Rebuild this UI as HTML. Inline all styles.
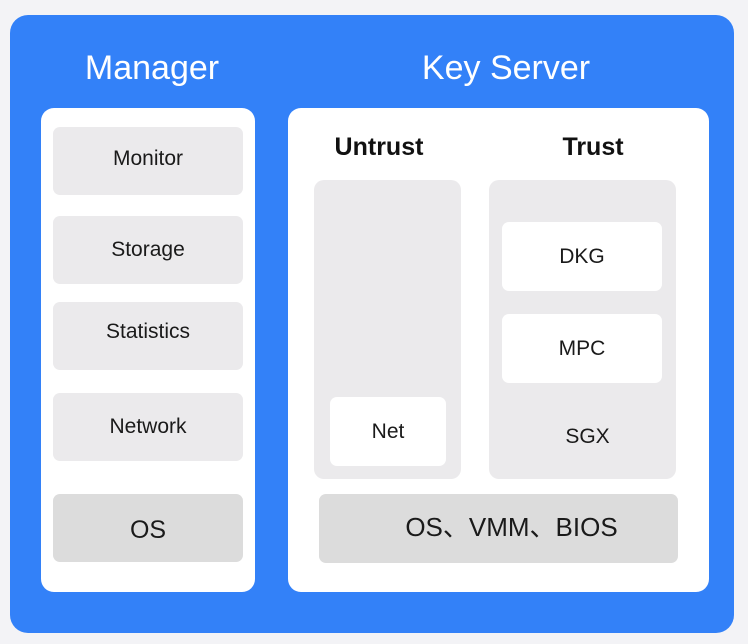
<!DOCTYPE html><html><head><style>
body{margin:0;width:748px;height:644px;background:#f3f3f6;position:relative;font-family:"Liberation Sans","Noto Sans CJK SC",sans-serif;overflow:hidden}
div{position:absolute;box-sizing:border-box}
.c{display:flex;align-items:center;justify-content:center;color:#1a1a1a}
.g{background:#ebeaec;border-radius:7px;font-size:21px}
.w{background:#fff;border-radius:7px;font-size:21px}
.d{background:#dcdcdc;border-radius:7px}
.t{color:#fff;font-size:34px}
.h{font-size:25px;font-weight:bold;color:#111}
</style></head><body>
<div style="left:10px;top:15px;width:724px;height:618px;background:#3381f8;border-radius:18px"></div>
<div class="c t" style="left:41px;top:46px;width:222px;height:44px">Manager</div>
<div class="c t" style="left:288px;top:46px;width:436px;height:44px">Key Server</div>
<div style="left:41px;top:108px;width:214px;height:484px;background:#fff;border-radius:13px"></div>
<div style="left:288px;top:108px;width:421px;height:484px;background:#fff;border-radius:13px"></div>
<div class="c g" style="left:53px;top:127px;width:190px;height:68px;padding-bottom:4px">Monitor</div>
<div class="c g" style="left:53px;top:216px;width:190px;height:68px">Storage</div>
<div class="c g" style="left:53px;top:302px;width:190px;height:68px;padding-bottom:8px">Statistics</div>
<div class="c g" style="left:53px;top:393px;width:190px;height:68px">Network</div>
<div class="c d" style="left:53px;top:494px;width:190px;height:68px;font-size:25px;padding-top:4px">OS</div>
<div class="c h" style="left:314px;top:130px;width:130px;height:34px">Untrust</div>
<div class="c h" style="left:530px;top:130px;width:126px;height:34px">Trust</div>
<div class="g" style="left:314px;top:180px;width:147px;height:299px;border-radius:10px"></div>
<div class="c w" style="left:330px;top:397px;width:116px;height:69px">Net</div>
<div class="g" style="left:489px;top:180px;width:187px;height:299px;border-radius:10px"></div>
<div class="c w" style="left:502px;top:222px;width:160px;height:69px">DKG</div>
<div class="c w" style="left:502px;top:314px;width:160px;height:69px">MPC</div>
<div class="c" style="left:489px;top:420px;width:197px;height:34px;font-size:21px">SGX</div>
<div class="c d" style="left:319px;top:494px;width:359px;height:69px;font-size:26px;padding-left:26px;padding-bottom:6px">OS、VMM、BIOS</div>
</body></html>
